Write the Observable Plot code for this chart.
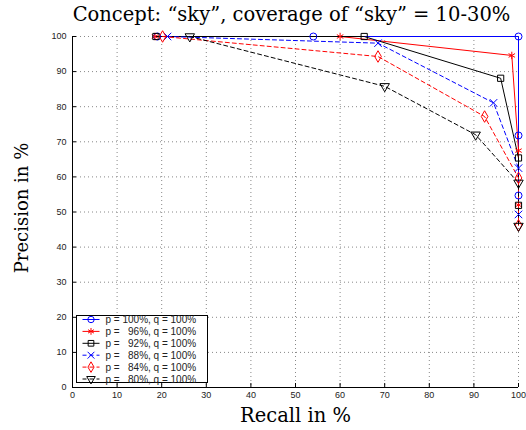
<!DOCTYPE html>
<html><head><meta charset="utf-8">
<script src="https://cdn.jsdelivr.net/npm/d3@7"></script>
<script src="https://cdn.jsdelivr.net/npm/@observablehq/plot@0.6"></script>
<style>
body{margin:0;background:#fff;}
#wrap{position:relative;width:526px;height:430px;}
#legend{position:absolute;left:0;top:0;}
</style></head><body><div id="wrap"></div>
<script>
// ---- data ----
const titleText = "Concept: \u201csky\u201d, coverage of \u201csky\u201d = 10-30%";
const xLabel = "Recall in %";
const yLabel = "Precision in %";
const xTicks = [0, 10, 20, 30, 40, 50, 60, 70, 80, 90, 100];
const yTicks = [0, 10, 20, 30, 40, 50, 60, 70, 80, 90, 100];
const seriesLabels = ["p = 100%, q = 100%", "p =   96%, q = 100%", "p =   92%, q = 100%",
                      "p =   88%, q = 100%", "p =   84%, q = 100%", "p =   80%, q = 100%"];
const recallP100 = [19, 54, 100, 100, 100];
const precisionP100 = [100, 100, 100, 71.8, 54.7];
const recallP96 = [18.5, 60, 98.5, 100, 100];
const precisionP96 = [100, 100, 94.6, 67.5, 52];
const recallP92 = [18.7, 65.4, 96, 100, 100];
const precisionP92 = [100, 100, 88.1, 65.4, 51.9];
const recallP88 = [21.3, 68.5, 94.4, 100, 100];
const precisionP88 = [100, 98.1, 81.1, 62.5, 49.3];
const recallP84 = [20.2, 68.5, 92.4, 100, 100];
const precisionP84 = [100, 94.3, 77.2, 59.7, 46.2];
const recallP80 = [26.3, 70, 90.4, 100, 100];
const precisionP80 = [100, 85.8, 72, 58.3, 46];

// ---- styles ----
const styles = [
  {color: "#0000ff", symbol: "circle", dash: null, rotate: 0},
  {color: "#ff0000", symbol: "asterisk", dash: null, rotate: 0},
  {color: "#000000", symbol: "square", dash: null, rotate: 0},
  {color: "#0000ff", symbol: "times", dash: "4,3", rotate: 0},
  {color: "#ff0000", symbol: "diamond", dash: "4,3", rotate: 0},
  {color: "#000000", symbol: "triangle", dash: "4,3", rotate: 180}
];
const recalls = [recallP100, recallP96, recallP92, recallP88, recallP84, recallP80];
const precisions = [precisionP100, precisionP96, precisionP92, precisionP88, precisionP84, precisionP80];
const series = seriesLabels.map((name, k) => ({
  name, ...styles[k],
  rows: recalls[k].map((r, i) => ({recall: r, precision: precisions[k][i]}))
}));

const serif = "'DejaVu Serif', 'Liberation Serif', serif";
const sans = "'Liberation Sans', Arial, sans-serif";

const marks = [
  Plot.gridX(xTicks.filter(d => d > 0), {stroke: "#888", strokeOpacity: 1, strokeDasharray: "1,3"}),
  Plot.gridY(yTicks.filter(d => d > 0), {stroke: "#888", strokeOpacity: 1, strokeDasharray: "1,3"}),
  Plot.axisX(xTicks, {anchor: "bottom", tickSize: -4, tickPadding: 8, fontSize: 9, fill: "#222", label: null, fontFamily: sans}),
  Plot.axisY(yTicks, {anchor: "left", tickSize: -4, tickPadding: 10, fontSize: 9, fill: "#222", label: null, fontFamily: sans}),
  Plot.ruleX([0], {stroke: "#000"}),
  Plot.ruleY([0], {stroke: "#000"})
];
for (const s of series) {
  marks.push(Plot.line(s.rows, {x: "recall", y: "precision", stroke: s.color, strokeWidth: 1, strokeDasharray: s.dash}));
}
for (const s of series) {
  marks.push(Plot.dot(s.rows, {x: "recall", y: "precision", stroke: s.color, fill: "none", symbol: s.symbol, r: 3.5, strokeWidth: 1, rotate: s.rotate}));
}
marks.push(Plot.text([titleText], {frameAnchor: "top", lineAnchor: "middle", textAnchor: "middle", dx: -4, dy: -22, fontSize: 19.5, fontFamily: serif, fill: "#000"}));
marks.push(Plot.text([xLabel], {frameAnchor: "bottom", lineAnchor: "middle", textAnchor: "middle", dy: 28, fontSize: 19.5, fontFamily: serif, fill: "#000"}));
marks.push(Plot.text([yLabel], {frameAnchor: "left", lineAnchor: "middle", textAnchor: "middle", dx: -50, dy: -4, rotate: -90, fontSize: 18, fontFamily: serif, fill: "#000"}));

const chart = Plot.plot({
  width: 526, height: 430,
  marginLeft: 72, marginRight: 8, marginTop: 36, marginBottom: 43,
  x: {domain: [0, 100]},
  y: {domain: [0, 100]},
  style: {background: "#fff"},
  marks
});
const wrap = document.getElementById("wrap");
wrap.appendChild(chart);

// ---- legend overlay ----
const lg = d3.select(wrap).append("svg").attr("id", "legend").attr("width", 526).attr("height", 430);
const box = lg.append("g").attr("transform", "translate(76.5,315.5)");
box.append("rect").attr("width", 131).attr("height", 67).attr("fill", "#fff").attr("stroke", "#000").attr("stroke-width", 1);
const symMap = {circle: d3.symbolCircle, asterisk: d3.symbolAsterisk, square: d3.symbolSquare, times: d3.symbolTimes, diamond: d3.symbolDiamond, triangle: d3.symbolTriangle};
series.forEach((s, i) => {
  const g = box.append("g").attr("transform", `translate(0,${4 + i * 11.9})`);
  g.append("line").attr("x1", 6).attr("x2", 23).attr("stroke", s.color).attr("stroke-width", 1).attr("stroke-dasharray", s.dash);
  g.append("path").attr("d", d3.symbol(symMap[s.symbol], Math.PI * 3.2 * 3.2)()).attr("transform", `translate(14.5,0) rotate(${s.rotate})`)
    .attr("fill", "none").attr("stroke", s.color);
  g.append("text").attr("x", 29).attr("dy", "0.35em").attr("font-size", 10).attr("font-family", sans)
    .attr("fill", "#222").style("white-space", "pre").text(s.name);
});
</script></body></html>
